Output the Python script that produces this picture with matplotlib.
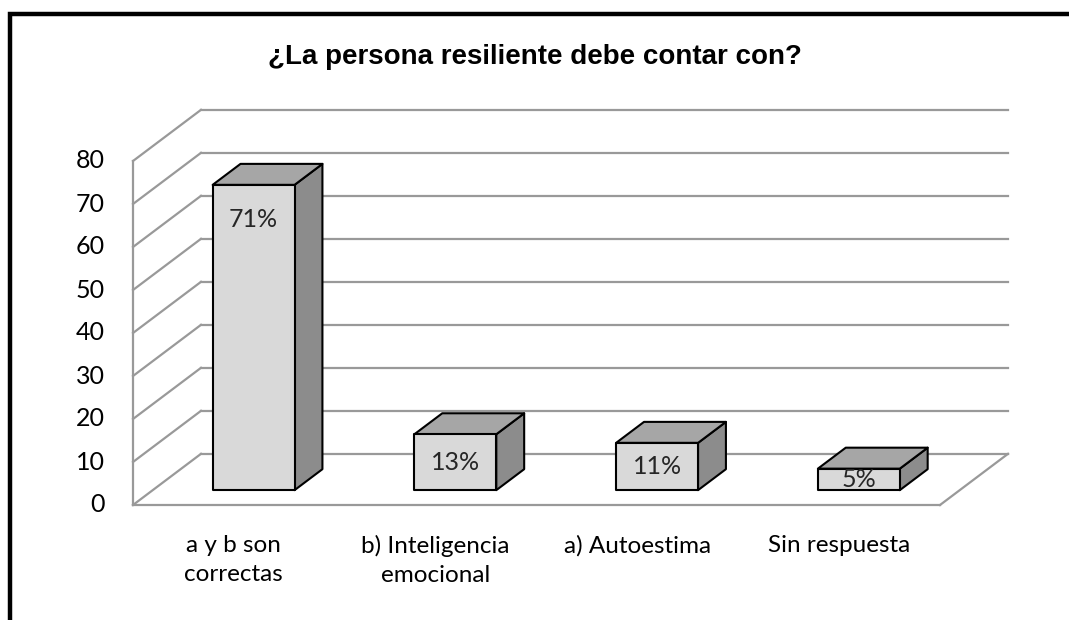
import numpy as np
import matplotlib
matplotlib.use("Agg")
from matplotlib import pyplot as plt
from matplotlib.patches import Polygon
from matplotlib.lines import Line2D

categories = ["a y b son\ncorrectas", "b) Inteligencia\nemocional", "a) Autoestima", "Sin respuesta"]
values = [71, 13, 11, 5]
labels = ["71%", "13%", "11%", "5%"]
yticks = [0, 10, 20, 30, 40, 50, 60, 70, 80]

# oblique depth offset (category units, value units)
DX = 0.337
DY = 11.9
d_front, d_back = 0.29, 0.70
bar_w = 0.406

def proj(x, v, d):
    return (x + d * DX, v + d * DY)

W, H = 1069, 620
fig = plt.figure(figsize=(W / 100, H / 100), dpi=100)
ax = fig.add_axes([0, 0, 1, 1])
# pixel mapping: category -0.5 -> x=133px, 3.5 -> 940px ; value 0 -> y=505px, 4.3 px per unit
pxc = (940 - 133) / 4.0
pxv = 4.3
ax.set_xlim(-0.5 - 133 / pxc, -0.5 + (W - 133) / pxc)
ax.set_ylim((505 - H) / pxv, 505 / pxv)
ax.axis("off")

grid_c = "#999999"
n = len(categories)
x0, x1 = -0.5, n - 0.5

# back wall and left wall grid lines
for t in yticks:
    bx0, by = proj(x0, t, 1)
    bx1, _ = proj(x1, t, 1)
    ax.plot([bx0, bx1], [by, by], color=grid_c, lw=1.6, zorder=1)
    fx, fy = proj(x0, t, 0)
    ax.plot([fx, bx0], [fy, by], color=grid_c, lw=1.6, zorder=1)
# left wall front edge
ax.plot([x0, x0], [0, yticks[-1]], color=grid_c, lw=1.6, zorder=1)
# floor front edge and right diagonal
ax.plot([x0, x1], [0, 0], color=grid_c, lw=1.6, zorder=1)
rx, ry = proj(x1, 0, 1)
ax.plot([x1, rx], [0, ry], color=grid_c, lw=1.6, zorder=1)

# 3D bars
for i, v in enumerate(values):
    l, r = i - bar_w / 2, i + bar_w / 2
    front = [proj(l, 0, d_front), proj(r, 0, d_front), proj(r, v, d_front), proj(l, v, d_front)]
    top = [proj(l, v, d_front), proj(r, v, d_front), proj(r, v, d_back), proj(l, v, d_back)]
    side = [proj(r, 0, d_front), proj(r, 0, d_back), proj(r, v, d_back), proj(r, v, d_front)]
    for pts, col in [(side, "#8c8c8c"), (top, "#a6a6a6"), (front, "#d9d9d9")]:
        ax.add_patch(Polygon(pts, closed=True, facecolor=col, edgecolor="black",
                             lw=1.5, joinstyle="round", zorder=3))
    ly = max(v - 8, v / 2)
    lx, lyy = proj(i, ly, d_front)
    ax.text(lx, lyy, labels[i], ha="center", va="center", fontsize=18,
            family="Lato", color="#262626", zorder=5)

# y tick labels
for t in yticks:
    ax.text(x0 - 28 / pxc, t, str(t), ha="right", va="center", fontsize=18,
            family="Lato", color="black")

# category labels
for i, c in enumerate(categories):
    ax.text(i, -30 / pxv, c, ha="center", va="top", fontsize=17.5, family="Lato",
            color="black", linespacing=1.45)

fig.text(0.5005, 1 - 57 / H, "¿La persona resiliente debe contar con?", ha="center",
         va="center", fontsize=20, fontweight="bold", family="Liberation Sans")

# outer frame (left and top edges visible)
fig.add_artist(Line2D([10 / W, 10 / W, 1.0], [0.0, 1 - 14 / H, 1 - 14 / H],
                      transform=fig.transFigure, color="black", lw=3.2,
                      solid_joinstyle="miter"))

fig.savefig("out.png", dpi=100)
